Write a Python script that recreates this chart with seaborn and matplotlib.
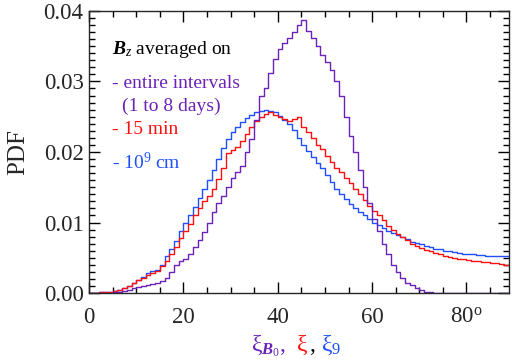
import numpy as np
import pandas as pd
import matplotlib
matplotlib.use("Agg")
import matplotlib.pyplot as plt
import seaborn as sns
from matplotlib.ticker import MultipleLocator

# bin left edges (degrees), 1-degree bins
bin_left = list(range(0, 89))

pdf_entire = [0, 0, 0, 0, 0, 0.0001, 0.0002, 0.0003, 0.0005, 0.0007,
              0.0009, 0.0010, 0.0012, 0.0013, 0.0015, 0.0017, 0.0022, 0.0030, 0.0040, 0.0045,
              0.0049, 0.0055, 0.0066, 0.0075, 0.0087, 0.0100, 0.0115, 0.0128, 0.0138, 0.0150,
              0.0163, 0.0172, 0.0180, 0.0200, 0.0218, 0.0245, 0.0280, 0.0290, 0.0312, 0.0332,
              0.0346, 0.0354, 0.0362, 0.0370, 0.0380, 0.0387, 0.0372, 0.0362, 0.0350, 0.0338,
              0.0328, 0.0316, 0.0300, 0.0280, 0.0250, 0.0222, 0.0200, 0.0175, 0.0150, 0.0128,
              0.0105, 0.0088, 0.0070, 0.0055, 0.0040, 0.0030, 0.0022, 0.0015, 0.0011, 0.0007,
              0.0004, 0.0002, 0.0001, 0, 0, 0, 0, 0, 0, 0,
              0, 0, 0, 0, 0, 0, 0, 0, 0]

pdf_15min = [0, 0, 0.0001, 0.0001, 0.0002, 0.0003, 0.0005, 0.0007, 0.0010, 0.0014,
             0.0019, 0.0022, 0.0026, 0.0028, 0.0031, 0.0038, 0.0046, 0.0055, 0.0065, 0.0078,
             0.0088, 0.0098, 0.0110, 0.0120, 0.0130, 0.0138, 0.0148, 0.0162, 0.0178, 0.0198,
             0.0203, 0.0207, 0.0215, 0.0225, 0.0236, 0.0244, 0.0250, 0.0254, 0.0256, 0.0252,
             0.0250, 0.0247, 0.0244, 0.0247, 0.0249, 0.0236, 0.0228, 0.0220, 0.0210, 0.0204,
             0.0195, 0.0186, 0.0178, 0.0171, 0.0163, 0.0156, 0.0148, 0.0140, 0.0132, 0.0124,
             0.0117, 0.0110, 0.0103, 0.0095, 0.0090, 0.0084, 0.0080, 0.0075, 0.0070, 0.0067,
             0.0064, 0.0061, 0.0059, 0.0057, 0.0055, 0.0053, 0.0051, 0.0050, 0.0049, 0.0048,
             0.0047, 0.0046, 0.0045, 0.0044, 0.0044, 0.0043, 0.0042, 0.0041, 0.0040]

pdf_1e9cm = [0, 0, 0.0001, 0.0001, 0.0002, 0.0003, 0.0005, 0.0007, 0.0010, 0.0014,
             0.0019, 0.0023, 0.0028, 0.0031, 0.0033, 0.0040, 0.0052, 0.0063, 0.0074, 0.0088,
             0.0100, 0.0110, 0.0122, 0.0135, 0.0148, 0.0160, 0.0175, 0.0190, 0.0205, 0.0218,
             0.0228, 0.0236, 0.0242, 0.0248, 0.0253, 0.0256, 0.0258, 0.0259, 0.0258, 0.0256,
             0.0251, 0.0246, 0.0240, 0.0231, 0.0220, 0.0210, 0.0202, 0.0193, 0.0185, 0.0177,
             0.0168, 0.0157, 0.0148, 0.0140, 0.0133, 0.0126, 0.0120, 0.0115, 0.0110, 0.0105,
             0.0100, 0.0096, 0.0092, 0.0088, 0.0085, 0.0082, 0.0080, 0.0076, 0.0073, 0.0071,
             0.0069, 0.0067, 0.0065, 0.0063, 0.0062, 0.0060, 0.0059, 0.0058, 0.0057, 0.0056,
             0.0056, 0.0055, 0.0054, 0.0054, 0.0053, 0.0053, 0.0052, 0.0052, 0.0052]

series_names = ["entire", "15min", "1e9cm"]
x_ticks = [0, 20, 40, 60, 80]
x_ticklabels = ["0", "20", "40", "60", "80$^{\\mathrm{o}}$"]
y_ticks = [0.00, 0.01, 0.02, 0.03, 0.04]
y_ticklabels = ["0.00", "0.01", "0.02", "0.03", "0.04"]

PURPLE = "#6a22b8"
RED = "#ff1010"
BLUE = "#1f4fff"

sns.set_style("ticks")
plt.rcParams["font.family"] = ["Liberation Serif", "DejaVu Serif"]
plt.rcParams["mathtext.fontset"] = "custom"
plt.rcParams["mathtext.rm"] = "Liberation Serif"
plt.rcParams["mathtext.it"] = "Liberation Serif:italic"
plt.rcParams["mathtext.bf"] = "Liberation Serif:bold:italic"

rows = []
for name, vals in zip(series_names, [pdf_entire, pdf_15min, pdf_1e9cm]):
    for b, v in zip(bin_left, vals):
        rows.append({"xi": b + 0.5, "pdf": v, "series": name})
df = pd.DataFrame(rows)

fig = plt.figure(figsize=(5.12, 3.61), dpi=100)
ax = fig.add_axes([0.174, 0.188, 0.820, 0.782])

# draw in order so purple is on top like the reference
for name, col in [("1e9cm", BLUE), ("15min", RED), ("entire", PURPLE)]:
    sub = df[df["series"] == name]
    sns.histplot(data=sub, x="xi", weights="pdf", binwidth=1, binrange=(0, 89),
                 element="step", fill=False, color=col, linewidth=1.0,
                 stat="count", ax=ax)

ax.set_xlim(0, 89)
ax.set_ylim(0, 0.04)
ax.set_xticks(x_ticks)
ax.set_xticklabels(x_ticklabels)
ax.set_yticks(y_ticks)
ax.set_yticklabels(y_ticklabels)
ax.xaxis.set_minor_locator(MultipleLocator(5))
ax.yaxis.set_minor_locator(MultipleLocator(0.001))
ax.tick_params(which="both", direction="in", top=True, right=True, width=1.0, color="black")
ax.tick_params(which="major", length=8, labelsize=16.5)
ax.tick_params(axis="x", which="major", pad=10)
ax.tick_params(axis="y", which="major", pad=4)
ax.tick_params(which="minor", length=4)
for sp in ax.spines.values():
    sp.set_linewidth(1.0)
    sp.set_visible(True)
ax.set_xlabel("")
ax.set_ylabel("PDF", fontsize=18, labelpad=10)

# annotation block
fs = 14
ax.text(0.055, 0.862, r"$\mathbf{B}_{\mathit{z}}$ averaged on", transform=ax.transAxes,
        fontsize=fs, color="black", va="center", ha="left")
ax.text(0.055, 0.743, "- entire intervals", transform=ax.transAxes,
        fontsize=fs, color=PURPLE, va="center", ha="left")
ax.text(0.078, 0.663, "(1 to 8 days)", transform=ax.transAxes,
        fontsize=fs, color=PURPLE, va="center", ha="left")
ax.text(0.055, 0.578, "- 15 min", transform=ax.transAxes,
        fontsize=fs, color=RED, va="center", ha="left")
ax.text(0.055, 0.462, "- 10$^{9}$ cm", transform=ax.transAxes,
        fontsize=fs, color=BLUE, va="center", ha="left")

# coloured x-axis label
fsx = 17
fig.text(0.490, 0.042, r"$\mathrm{\xi}_{\mathbf{B}_{0}}$,", fontsize=fsx, color=PURPLE, ha="left", va="center")
fig.text(0.578, 0.042, r"$\mathrm{\xi}$", fontsize=fsx, color=RED, ha="left", va="center")
fig.text(0.604, 0.042, ",", fontsize=fsx, color="black", ha="left", va="center")
fig.text(0.627, 0.042, r"$\mathrm{\xi}_{9}$", fontsize=fsx, color=BLUE, ha="left", va="center")

fig.savefig("out.png", dpi=100)
